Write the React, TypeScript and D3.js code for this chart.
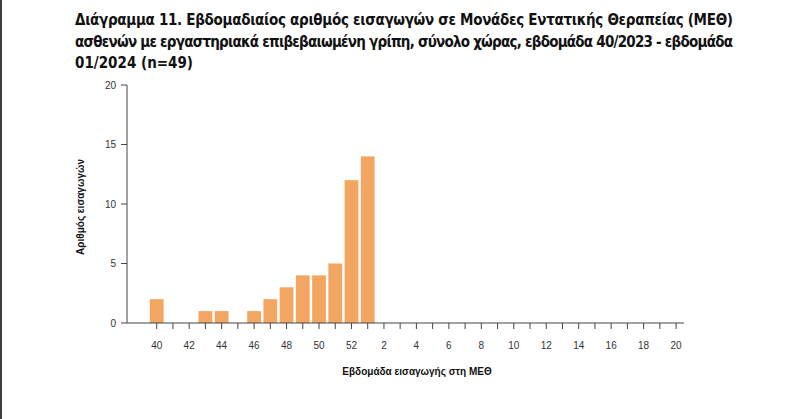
import React from "react";
import * as d3 from "d3";

const weeks: string[] = [
  "40","41","42","43","44","45","46","47","48","49","50","51","52",
  "1","2","3","4","5","6","7","8","9","10","11","12","13","14","15","16","17","18","19","20",
];
const admissions: number[] = [
  2,0,0,1,1,0,1,2,3,4,4,5,12,
  14,0,0,0,0,0,0,0,0,0,0,0,0,0,0,0,0,0,0,0,
];
const yTicks: number[] = [0, 5, 10, 15, 20];
const titleLines: string[] = [
  "Διάγραμμα 11. Εβδομαδιαίος αριθμός εισαγωγών σε Μονάδες Εντατικής Θεραπείας (ΜΕΘ)",
  "ασθενών με εργαστηριακά επιβεβαιωμένη γρίπη, σύνολο χώρας, εβδομάδα 40/2023 - εβδομάδα",
  "01/2024 (n=49)",
];
const xTitle = "Εβδομάδα εισαγωγής στη ΜΕΘ";
const yTitle = "Αριθμός εισαγωγών";

export default function App() {
  const W = 800, H = 419;
  const axisX = 127;
  const y = d3.scaleLinear().domain([0, 20]).range([323, 85]);
  const x = d3.scaleBand<string>().domain(weeks).range([148.6, 684.2]).paddingInner(0.15).paddingOuter(0.075);
  const half = x.bandwidth() / 2;
  const tickFont = "'Liberation Sans', Arial, sans-serif";
  const titleFont = "'Liberation Sans Narrow', 'DejaVu Sans Condensed', 'Liberation Sans', Arial, sans-serif";
  return (
    <svg width={W} height={H} style={{ position: "absolute", left: 0, top: 0, background: "#fff" }}>
      <rect x={0} y={0} width={W} height={H} fill="#fff" />
      <rect x={0} y={0} width={2} height={H} fill="#3c3c3c" />
      {titleLines.map((t, i) => (
        <text
          key={i}
          x={75}
          y={25 + i * 21.5}
          fontFamily={titleFont}
          fontWeight="bold"
          fontSize={15}
          fill="#111"
          {...(i < 2 ? { textLength: 658, lengthAdjust: "spacing" } : {})}
        >
          {t}
        </text>
      ))}
      {/* bars */}
      {weeks.map((w, i) =>
        admissions[i] > 0 ? (
          <rect
            key={w}
            x={x(w)!}
            y={y(admissions[i])}
            width={x.bandwidth()}
            height={y(0) - y(admissions[i])}
            fill="#F3A661"
          />
        ) : null
      )}
      {/* y axis */}
      <line x1={axisX} x2={axisX} y1={y(20)} y2={y(0)} stroke="#444" strokeWidth={1} />
      {yTicks.map((t) => (
        <g key={t}>
          <line x1={axisX - 6} x2={axisX} y1={y(t)} y2={y(t)} stroke="#444" />
          <text x={axisX - 11} y={y(t)} dy="0.35em" textAnchor="end" fontFamily={tickFont} fontSize={10} fill="#333">
            {t}
          </text>
        </g>
      ))}
      {/* x axis */}
      <line x1={axisX} x2={684} y1={y(0)} y2={y(0)} stroke="#444" strokeWidth={1} />
      {weeks.map((w, i) => (
        <g key={w}>
          <line x1={x(w)! + half} x2={x(w)! + half} y1={y(0)} y2={y(0) + 6} stroke="#444" />
          {i % 2 === 0 ? (
            <text x={x(w)! + half} y={349} textAnchor="middle" fontFamily={tickFont} fontSize={10} fill="#333">
              {w}
            </text>
          ) : null}
        </g>
      ))}
      <text x={417} y={375} textAnchor="middle" fontFamily={tickFont} fontWeight="bold" fontSize={10} fill="#111">
        {xTitle}
      </text>
      <text
        transform={`translate(84,207) rotate(-90)`}
        textAnchor="middle"
        fontFamily={tickFont}
        fontWeight="bold"
        fontSize={10}
        fill="#111"
      >
        {yTitle}
      </text>
    </svg>
  );
}
